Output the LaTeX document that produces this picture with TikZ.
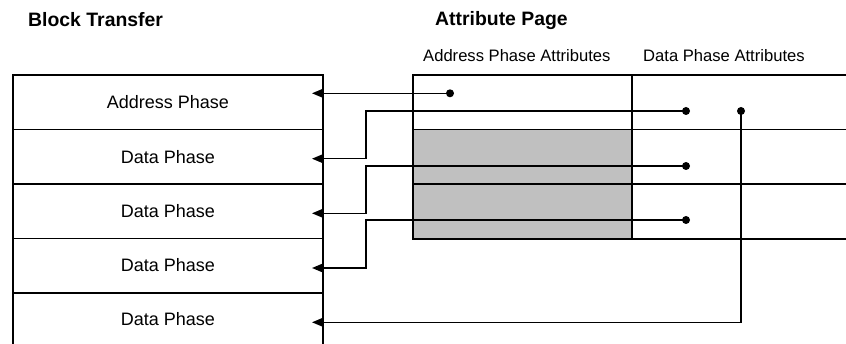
\documentclass[tikz,border=0pt]{standalone}
\usepackage{fontspec}
\setmainfont{Liberation Sans}
\usetikzlibrary{arrows.meta}
\definecolor{cellgray}{HTML}{C0C0C0}
\begin{document}
\begin{tikzpicture}[x=1pt,y=-1pt,
  rowbox/.style={draw=black,line width=1.1pt,rectangle,minimum width=310pt,minimum height=54.5pt,inner sep=0pt},
  rowtext/.style={anchor=base,inner sep=0pt,font=\fontsize{18}{20}\selectfont},
  cell/.style={draw=black,line width=1.1pt},
  graycell/.style={draw=black,line width=1.1pt,fill=cellgray},
  headtext/.style={anchor=base west,inner sep=0pt,font=\fontsize{16.6}{19}\selectfont},
  titletext/.style={anchor=base west,inner sep=0pt,font=\fontsize{19.4}{22}\selectfont\bfseries},
  dotnode/.style={circle,fill=black,inner sep=0pt,minimum size=8pt},
  conn/.style={line width=1.3pt,-{Triangle[length=10pt,width=8pt]}}
]
\useasboundingbox (0,0) rectangle (846,344);
% titles
\node[titletext] (tbt) at (28,26.7) {Block Transfer};
\node[titletext] (tap) at (435,25.7) {Attribute Page};
\node[headtext] (hapa) at (423,61.7) {Address Phase Attributes};
\node[headtext] (hdpa) at (643,61.7) {Data Phase Attributes};
% block transfer rows
\node[rowbox] (r1) at (168,102.25) {};
\node[rowbox] (r2) at (168,156.75) {};
\node[rowbox] (r3) at (168,211.25) {};
\node[rowbox] (r4) at (168,265.75) {};
\node[rowbox] (r5) at (168,320.25) {};
\node[rowtext] (t1) at (168,109) {Address Phase};
\node[rowtext] (t2) at (168,163.3) {Data Phase};
\node[rowtext] (t3) at (168,217.7) {Data Phase};
\node[rowtext] (t4) at (168,272) {Data Phase};
\node[rowtext] (t5) at (168,325.8) {Data Phase};
% attribute page table
\draw[cell] (413,75) rectangle (632,129.5);
\draw[graycell] (413,129.5) rectangle (632,184);
\draw[graycell] (413,184) rectangle (632,239);
\draw[cell] (632,75) rectangle (850,129.5);
\draw[cell] (632,129.5) rectangle (850,184);
\draw[cell] (632,184) rectangle (850,239);
% dots
\node[dotnode] (da) at (450,93.3) {};
\node[dotnode] (db) at (686,111) {};
\node[dotnode] (dc) at (686,166) {};
\node[dotnode] (dd) at (686,220) {};
\node[dotnode] (de) at (741,111) {};
% arrow end points and turning column
\coordinate (ea) at (312,93.3);
\coordinate (eb) at (312,158.7);
\coordinate (ec) at (312,213.3);
\coordinate (ed) at (312,268);
\coordinate (ee) at (312,322.3);
\coordinate (xt) at (366,0);
% connectors
\draw[conn] (da.center) -- (ea);
\draw[conn] (db.center) -- (db.center -| xt) |- (eb);
\draw[conn] (dc.center) -- (dc.center -| xt) |- (ec);
\draw[conn] (dd.center) -- (dd.center -| xt) |- (ed);
\draw[conn] (de.center) |- (ee);
\end{tikzpicture}
\end{document}
